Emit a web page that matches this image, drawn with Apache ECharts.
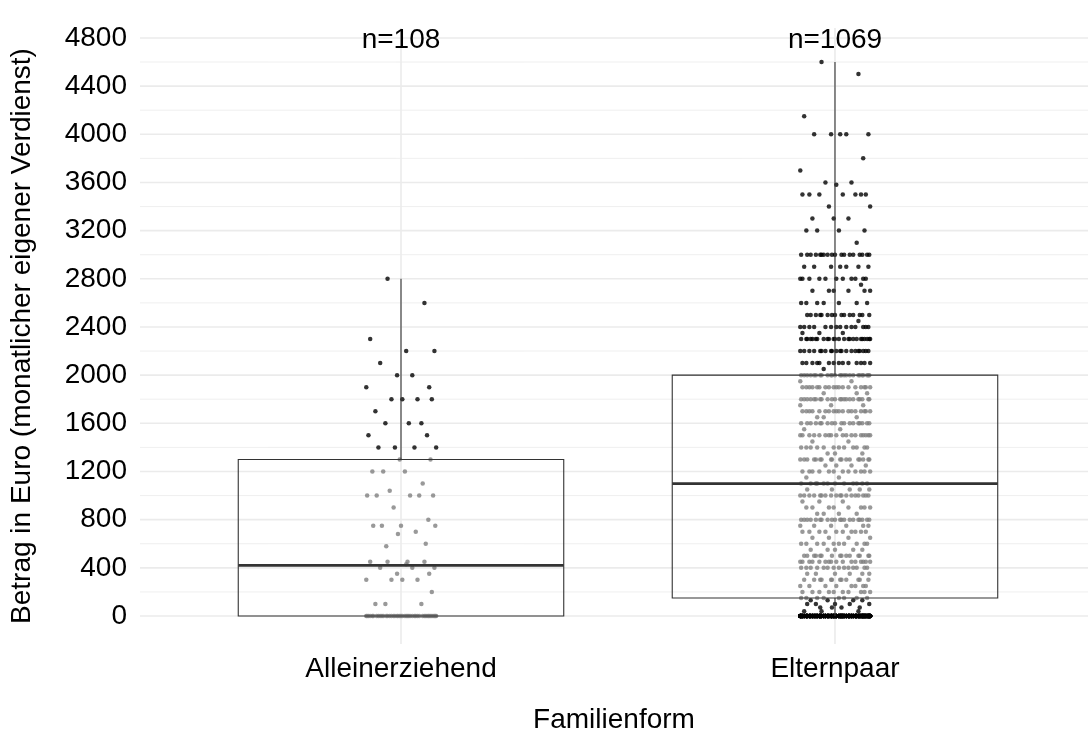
<!DOCTYPE html>
<html>
<head>
<meta charset="utf-8">
<script src="https://cdn.jsdelivr.net/npm/echarts@6/dist/echarts.min.js"></script>
<style>
  html, body { margin: 0; padding: 0; background: #fff; }
  #chart { width: 1088px; height: 736px; }
</style>
</head>
<body>
<div id="chart"></div>
<script>
// Kategorien und Beschriftungen
const categories = ['Alleinerziehend', 'Elternpaar'];
const nLabels = ['n=108', 'n=1069'];
const yTicks = [0, 400, 800, 1200, 1600, 2000, 2400, 2800, 3200, 3600, 4000, 4400, 4800];
const yMinor = [200, 600, 1000, 1400, 1800, 2200, 2600, 3000, 3400, 3800, 4200, 4600];

// Boxplot-Kennwerte: [min, Q1, Median, Q3, max]
const boxAllein = [0, 0, 420, 1300, 2800];
const boxEltern = [0, 150, 1100, 2000, 4600];

// Einzelwerte (Betrag und Anzahl Punkte auf diesem Betrag)
const alleinLevels = [2800, 2600, 2300, 2200, 2100, 2000, 1900, 1800, 1700, 1600, 1500, 1400, 1300,
  1200, 1100, 1040, 1000, 900, 800, 750, 700, 680, 600, 580, 450, 430, 400, 350, 300, 200, 100, 0];
const alleinCounts = [1, 1, 1, 2, 1, 2, 2, 4, 1, 3, 2, 4, 2,
  3, 1, 1, 5, 1, 1, 4, 1, 1, 1, 1, 4, 1, 3, 2, 4, 1, 3, 44];

const elternLevels = [4600, 4500, 4150, 4000, 3800, 3700, 3600, 3580, 3500, 3400, 3300, 3200, 3100,
  3000, 2900, 2800, 2750, 2700, 2600, 2500, 2450, 2400, 2350, 2300, 2200, 2100, 2050,
  2000, 1950, 1900, 1850, 1800, 1750, 1700, 1650, 1600, 1550, 1500, 1450, 1400, 1350, 1300, 1250,
  1200, 1150, 1100, 1050, 1000, 950, 900, 850, 800, 750, 700, 650, 600, 550, 500, 450, 400, 350,
  300, 250, 200, 150, 130, 100, 70, 40, 0];
const elternCounts = [1, 1, 1, 5, 1, 1, 2, 1, 7, 2, 3, 4, 1,
  18, 7, 11, 1, 6, 7, 15, 1, 14, 3, 24, 20, 14, 1,
  25, 2, 18, 3, 22, 3, 18, 3, 18, 2, 18, 2, 12, 3, 18, 4,
  12, 2, 12, 5, 18, 3, 8, 4, 20, 6, 10, 4, 10, 5, 15, 16, 14, 6,
  12, 8, 10, 8, 4, 5, 4, 3, 502];

// horizontale Streuung (Anteil des Kategorienabstands)
const jitter = [-0.031, 0.054, -0.071, 0.012, 0.077, -0.048, 0.026, -0.009, 0.065, -0.080, 0.038,
  -0.022, 0.003, 0.071, -0.059, 0.047, -0.036, 0.018, -0.075, 0.060, -0.014, 0.081, -0.052, 0.031,
  -0.003, 0.068, -0.066, 0.009, -0.041, 0.050, -0.026, 0.074, -0.078, 0.021, 0.042, -0.056, -0.017,
  0.063, 0.000, -0.044, 0.079, -0.064, 0.034, -0.007, 0.057, -0.034, 0.015];

(function() {
  'use strict';

  const FONT = 'Liberation Sans, Arial, Helvetica, sans-serif';
  const FONT_SIZE = 28;
  const GRID_COLOR = '#ebebeb';

  // Punkte einer Gruppe aufbauen; ausserhalb der Box schwarz, sonst grau
  function buildPoints(xPos, levels, counts, box) {
    const inside = [];
    const outside = [];
    let k = 0;
    levels.forEach(function(v, i) {
      for (let c = 0; c < counts[i]; c++) {
        const pt = [xPos + jitter[k % jitter.length], v];
        k++;
        if (v > box[3] || v < box[1]) {
          outside.push(pt);
        } else {
          inside.push(pt);
        }
      }
    });
    return { inside: inside, outside: outside };
  }

  const pA = buildPoints(1, alleinLevels, alleinCounts, boxAllein);
  const pE = buildPoints(2, elternLevels, elternCounts, boxEltern);

  function hLine(width) {
    return function(params, api) {
      const y = api.coord([1, api.value(1)])[1];
      const cs = params.coordSys;
      return {
        type: 'line',
        shape: { x1: cs.x, y1: y, x2: cs.x + cs.width, y2: y },
        style: { stroke: GRID_COLOR, lineWidth: width }
      };
    };
  }

  function vLine(params, api) {
    const x = api.coord([api.value(0), 0])[0];
    const cs = params.coordSys;
    return {
      type: 'line',
      shape: { x1: x, y1: cs.y, x2: x, y2: cs.y + cs.height },
      style: { stroke: GRID_COLOR, lineWidth: 1.6 }
    };
  }

  function renderBox(params, api) {
    const x = api.value(0);
    const lo = api.coord([x, api.value(1)]);
    const q1 = api.coord([x, api.value(2)]);
    const med = api.coord([x, api.value(3)]);
    const q3 = api.coord([x, api.value(4)]);
    const hi = api.coord([x, api.value(5)]);
    const half = api.size([0.75, 0])[0] / 2;
    const stroke = '#333333';
    return {
      type: 'group',
      children: [
        { type: 'line', shape: { x1: hi[0], y1: hi[1], x2: q3[0], y2: q3[1] }, style: { stroke: stroke, lineWidth: 1.1 } },
        { type: 'line', shape: { x1: lo[0], y1: lo[1], x2: q1[0], y2: q1[1] }, style: { stroke: stroke, lineWidth: 1.1 } },
        { type: 'rect', shape: { x: q3[0] - half, y: q3[1], width: half * 2, height: q1[1] - q3[1] },
          style: { fill: 'none', stroke: stroke, lineWidth: 1.1 } },
        { type: 'line', shape: { x1: med[0] - half, y1: med[1], x2: med[0] + half, y2: med[1] },
          style: { stroke: stroke, lineWidth: 2.8 } }
      ]
    };
  }

  function renderN(params, api) {
    const p = api.coord([api.value(0), api.value(1)]);
    return {
      type: 'text',
      x: p[0],
      y: p[1],
      style: {
        text: nLabels[params.dataIndex],
        textAlign: 'center',
        textVerticalAlign: 'middle',
        fontSize: FONT_SIZE,
        fontFamily: FONT,
        fill: '#000'
      }
    };
  }

  const chart = echarts.init(document.getElementById('chart'), null, { renderer: 'canvas' });

  const option = {
    animation: false,
    backgroundColor: '#fff',
    grid: { left: 140, right: 0, top: 28, bottom: 92, outerBoundsMode: 'none', containLabel: false },
    xAxis: {
      type: 'value',
      min: 0.3986,
      max: 2.583,
      name: 'Familienform',
      nameLocation: 'middle',
      nameGap: 62,
      nameTextStyle: { fontSize: FONT_SIZE, fontFamily: FONT, color: '#000' },
      axisLine: { show: false },
      axisTick: { show: false },
      splitLine: { show: false },
      axisLabel: {
        customValues: [1, 2],
        margin: 11,
        fontSize: FONT_SIZE,
        fontFamily: FONT,
        color: '#000',
        formatter: function(v) { return categories[Math.round(v) - 1] || ''; }
      }
    },
    yAxis: {
      type: 'value',
      min: -232.5,
      max: 4882.5,
      name: 'Betrag in Euro (monatlicher eigener Verdienst)',
      nameLocation: 'middle',
      nameGap: 104,
      nameTextStyle: { fontSize: FONT_SIZE, fontFamily: FONT, color: '#000' },
      axisLine: { show: false },
      axisTick: { show: false },
      splitLine: { show: false },
      axisLabel: {
        customValues: yTicks,
        margin: 13,
        fontSize: FONT_SIZE,
        fontFamily: FONT,
        color: '#000',
        formatter: function(v) { return String(v); }
      }
    },
    series: [
      { type: 'custom', silent: true, z: 0, renderItem: hLine(0.8), data: yMinor.map(function(v) { return [1, v]; }) },
      { type: 'custom', silent: true, z: 0, renderItem: hLine(1.6), data: yTicks.map(function(v) { return [1, v]; }) },
      { type: 'custom', silent: true, z: 0, renderItem: vLine, data: [[1, 0], [2, 0]] },
      { type: 'scatter', z: 2, symbolSize: 4.5, itemStyle: { color: '#808080' }, data: pA.inside.concat(pE.inside) },
      { type: 'scatter', z: 2, symbolSize: 4.5, itemStyle: { color: '#000000' }, data: pA.outside.concat(pE.outside) },
      { type: 'custom', z: 3, silent: true, renderItem: renderBox,
        data: [[1].concat(boxAllein), [2].concat(boxEltern)] },
      { type: 'custom', z: 4, silent: true, renderItem: renderN, data: [[1, 4780], [2, 4780]] }
    ]
  };

  chart.setOption(option);
})();
</script>
</body>
</html>
